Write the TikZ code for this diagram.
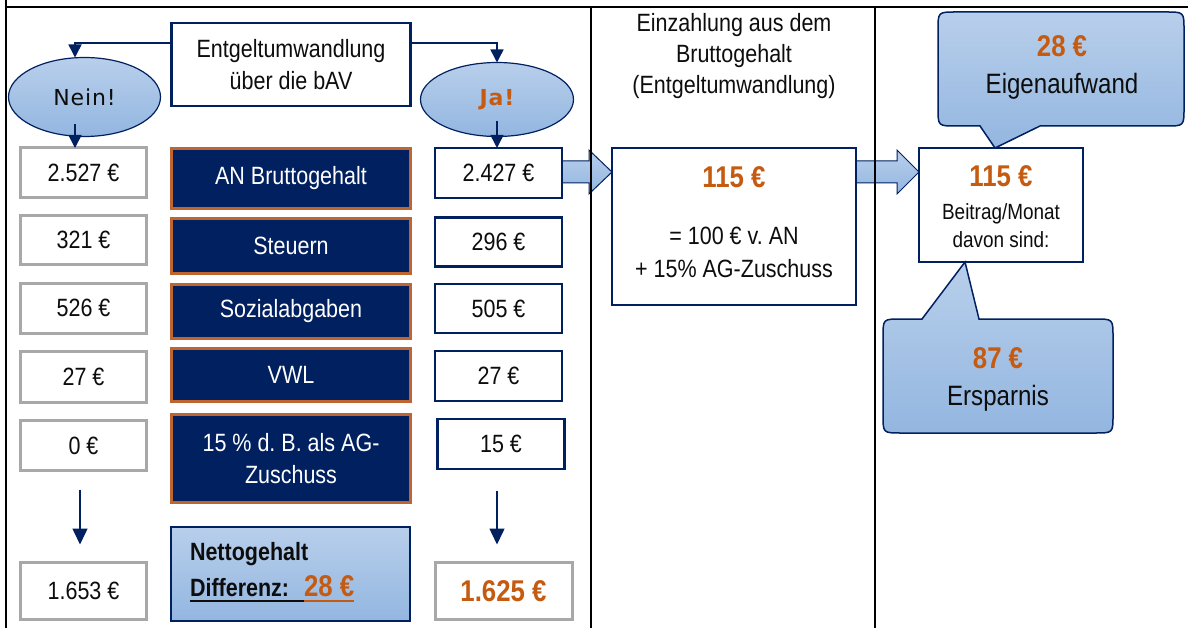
\documentclass[tikz,border=0pt]{standalone}
\usepackage{fontspec}
\setmainfont[FakeStretch=0.86]{Liberation Sans}
\newfontfamily\ovalfont[LetterSpace=4]{DejaVu Sans}
\usetikzlibrary{arrows.meta,calc,backgrounds,shapes.geometric}
\frenchspacing

\definecolor{navy}{HTML}{002060}
\definecolor{rust}{HTML}{C55A11}
\definecolor{brick}{HTML}{BF6530}
\definecolor{lbtop}{HTML}{B8CFEB}
\definecolor{lbbot}{HTML}{93B6E0}
\definecolor{frame}{HTML}{A8A8A8}
\definecolor{ink}{HTML}{0D0D0D}

\newcommand\fs[1]{\fontsize{#1}{1.22\dimexpr#1pt\relax}\selectfont}

% block arrow from a start point to a tip point at the same height
\newcommand\blockarrow[3]{%
  \draw[barrow] let \p1=(#1), \p2=(#2) in
    (\x1,\y1+11pt) -- (\x2-#3,\y1+11pt) -- (\x2-#3,\y1+22pt) -- (\x2,\y1)
    -- (\x2-#3,\y1-22pt) -- (\x2-#3,\y1-11pt) -- (\x1,\y1-11pt) -- cycle;}

\tikzset{
  every node/.style={inner sep=0pt, outer sep=0pt},
  txt/.style={font=\fs{25}, text=ink},
  rule/.style={line width=2.4pt, black},
  bluefill/.style={top color=lbtop, bottom color=lbbot},
  valgray/.style={txt, draw=frame, line width=3pt, fill=white, minimum width=126pt},
  valnavy/.style={txt, draw=navy, line width=2.5pt, fill=white, minimum width=127pt},
  darkbox/.style={txt, text=white, fill=navy, draw=brick, line width=3pt,
    minimum width=239pt, align=center},
  navybox/.style={draw=navy, line width=2.5pt, fill=white},
  oval/.style={ellipse, draw=navy, line width=1.2pt, bluefill},
  conn/.style={draw=navy, line width=1.5pt, -{Triangle[width=13pt,length=13pt]}},
  bigconn/.style={draw=navy, line width=1.5pt, -{Triangle[width=15pt,length=16pt]}},
  barrow/.style={draw=navy, line width=1pt, bluefill},
  bubble/.style={draw=navy, line width=1.5pt, bluefill},
  rustnum/.style={font=\fs{30}\bfseries, text=rust},
}

\begin{document}
\begin{tikzpicture}[x=1pt,y=-1pt]
\useasboundingbox (0,0) rectangle (1188,628);

% table grid
\draw[rule] (6,0) -- (6,628);
\draw[rule] (6,7) -- (1188,7);
\draw[rule] (591,7) -- (591,628);
\draw[rule] (875,7) -- (875,628);

% question and the two answers
\node[navybox, txt, minimum width=239pt, minimum height=83pt, align=center]
  (q) at (291,64.5) {Entgeltumwandlung\\[1pt]über die bAV};
\node[oval, minimum width=152pt, minimum height=79pt] (nein) at (84.5,97)
  {\ovalfont\fs{22}\color{ink}Nein!};
\node[oval, minimum width=153pt, minimum height=74pt] (ja) at (497,99.5)
  {\ovalfont\fs{22}\bfseries\color{rust}Ja!};

% left column: without conversion
\node[valgray, minimum height=50pt] (L1) at (83.5,173) {2.527 €};
\node[valgray, minimum height=49pt] (L2) at (83.5,240) {321 €};
\node[valgray, minimum height=50pt] (L3) at (83.5,308) {526 €};
\node[valgray, minimum height=51pt] (L4) at (83.5,377) {27 €};
\node[valgray, minimum height=50pt] (L5) at (83.5,445.5) {0 €};
\node[valgray, minimum height=57pt] (L6) at (83.5,591) {1.653 €};

% middle column: item labels
\node[darkbox, minimum height=60pt] (D1) at (291,178.5) {AN Bruttogehalt};
\node[darkbox, minimum height=55pt] (D2) at (291,246) {Steuern};
\node[darkbox, minimum height=54pt] (D3) at (291,311.5) {Sozialabgaben};
\node[darkbox, minimum height=53pt] (D4) at (291,375) {VWL};
\node[darkbox, minimum height=88pt] (D5) at (291,458.5) {15 \% d. B. als AG-\\[1pt]Zuschuss};
\node[draw=navy, line width=1.5pt, bluefill, minimum width=239pt, minimum height=94pt]
  (net) at (290.5,574) {};
\node[txt, font=\fs{25}\bfseries, anchor=base west] (ng) at (190,560) {Nettogehalt};
\node[txt, font=\fs{25}\bfseries, anchor=base west] (diff) at (190,596) {Differenz:};
\node[rustnum, anchor=base west] (d28) at (304,596) {28 €};
\draw[line width=2pt, ink] ([yshift=-5pt]diff.base west) -- ([yshift=-5pt]d28.base west);
\draw[line width=2pt, rust] ([yshift=-5pt]d28.base west) -- ([yshift=-5pt]d28.base east);

% right column: with conversion
\node[valnavy, minimum height=50pt] (R1) at (498.5,173) {2.427 €};
\node[valnavy, minimum height=49pt] (R2) at (498.5,242) {296 €};
\node[valnavy, minimum height=49pt] (R3) at (498.5,308.5) {505 €};
\node[valnavy, minimum height=50pt] (R4) at (498.5,376) {27 €};
\node[valnavy, minimum height=50pt] (R5) at (501,444) {15 €};
\node[valgray, rustnum, minimum width=137pt, minimum height=57pt] (R6) at (503.5,591) {1.625 €};

% flow arrows
\draw[conn] (q.west |- 0,43) -| ([xshift=-9.5pt]nein.north);
\draw[conn] (q.east |- 0,43) -| (ja.north);
\draw[conn] ([xshift=-9.5pt,yshift=12pt]nein.south) -- ([xshift=-8.5pt]L1.north);
\draw[conn] ([yshift=15pt]ja.south) -- (R1.north -| ja.south);
\draw[bigconn] ([xshift=-3.5pt,yshift=-19pt]L5.south) -- ([xshift=-3.5pt,yshift=18pt]L6.north);
\draw[bigconn] ([xshift=-4pt,yshift=-22pt]R5.south) -- ([xshift=-6.5pt,yshift=18pt]R6.north);

% contribution column
\node[txt, anchor=base] (h1) at (734,32) {Einzahlung aus dem};
\node[txt, anchor=base] (h2) at (734,63) {Bruttogehalt};
\node[txt, anchor=base] (h3) at (734,94) {(Entgeltumwandlung)};
\node[navybox, minimum width=244pt, minimum height=157pt] (M) at (734,226.5) {};
\node[rustnum, anchor=base] (m115) at (734,188) {115 €};
\node[txt, anchor=base] (m1) at (734,245) {= 100 € v. AN};
\node[txt, anchor=base] (m2) at (734,278) {+ 15\% AG-Zuschuss};

% monthly contribution
\node[navybox, minimum width=164pt, minimum height=114pt] (Rb) at (1001,205) {};
\node[rustnum, anchor=base] (r115) at (1001,187) {115 €};
\node[txt, font=\fs{22}, anchor=base] (r1) at (1001,220) {Beitrag/Monat};
\node[txt, font=\fs{22}, anchor=base] (r2) at (1001,248) {davon sind:};

\coordinate (ay) at (0,172);
\begin{scope}[on background layer]
  \blockarrow{R1.east |- ay}{M.west |- ay}{23pt}
  \blockarrow{M.east |- ay}{Rb.west |- ay}{22pt}
\end{scope}

% speech bubbles
\coordinate (tip1) at ([xshift=-6pt]Rb.north);
\coordinate (tip2) at ([xshift=-36pt]Rb.south);
\draw[bubble] (1060,12) -- (1166,12) .. controls (1184,12) .. (1184,30) -- (1184,108)
  .. controls (1184,126) .. (1166,126) -- (1040,126) -- (tip1) -- (980,126) -- (956,126)
  .. controls (938,126) .. (938,108) -- (938,30) .. controls (938,12) .. (956,12) -- cycle;
\draw[bubble] (998,433) -- (1095,433) .. controls (1113,433) .. (1113,415) -- (1113,337)
  .. controls (1113,319) .. (1095,319) -- (979,319) -- (tip2) -- (922,319) -- (901,319)
  .. controls (883,319) .. (883,337) -- (883,415) .. controls (883,433) .. (901,433) -- cycle;
\node[rustnum, anchor=base] (b28) at (1062,57) {28 €};
\node[txt, font=\fs{28}, anchor=base] (b1) at (1062,94) {Eigenaufwand};
\node[rustnum, anchor=base] (b87) at (998,368) {87 €};
\node[txt, font=\fs{28}, anchor=base] (b2) at (998,405) {Ersparnis};
\end{tikzpicture}
\end{document}
